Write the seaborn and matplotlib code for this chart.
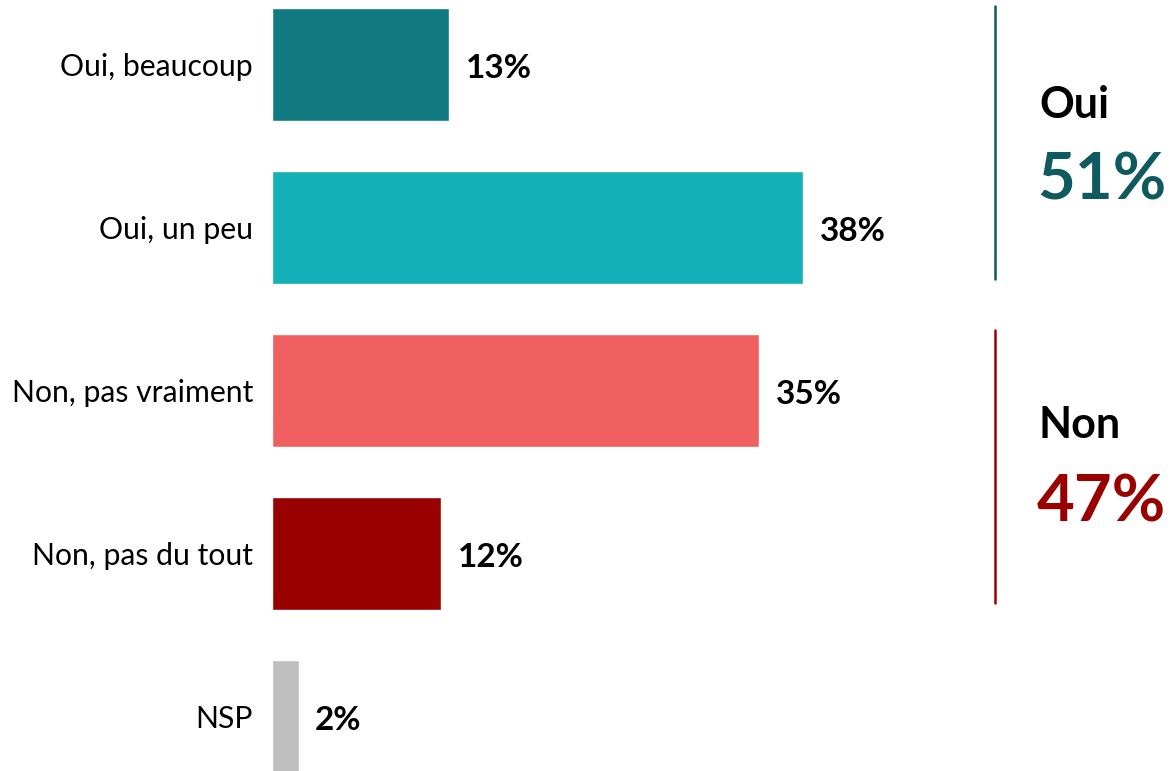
import seaborn as sns
import matplotlib.pyplot as plt
import pandas as pd

categories = ['Oui, beaucoup', 'Oui, un peu', 'Non, pas vraiment', 'Non, pas du tout', 'NSP']
values = [12.7, 38.1, 34.9, 12.1, 1.9]
value_labels = ['13%', '38%', '35%', '12%', '2%']
bar_colors = ['#117A81', '#14B0B8', '#F06060', '#990000', '#BFBFBF']

groups = ['Oui', 'Non']
group_totals = ['51%', '47%']
group_colors = ['#0E5A5E', '#990000']

sns.set_style('white')
plt.rcParams['font.family'] = ['Lato', 'DejaVu Sans']

df = pd.DataFrame({'categorie': categories, 'valeur': values})

W, H = 1172, 771
fig = plt.figure(figsize=(W / 100, H / 100), dpi=100)
# axis starts at x=272 px, 13.95 px per percent point
ax = fig.add_axes([272 / W, 0, 50 * 13.95 / W, 1])

sns.barplot(data=df, x='valeur', y='categorie', hue='categorie',
            palette=bar_colors, width=0.693, legend=False, ax=ax,
            saturation=1)

ax.set_xlim(0, 50)
ax.set_ylim(4 + (771 - 716.5) / 163, -64.5 / 163)
ax.set_xlabel('')
ax.set_ylabel('')
ax.set_xticks([])
ax.tick_params(axis='y', length=0, pad=13.7, labelsize=21.7, labelcolor='black')
for s in ax.spines.values():
    s.set_visible(False)

for i, (v, lab) in enumerate(zip(values, value_labels)):
    ax.text(v + 1.2, i + 0.025, lab, ha='left', va='center',
            fontsize=24, fontweight='bold', color='black')

# group brackets on the right
line_spans = [(6, 279), (330, 603)]
for (y0, y1), c in zip(line_spans, group_colors):
    fig.add_artist(plt.Line2D([995 / W, 995 / W], [1 - y0 / H, 1 - y1 / H],
                              color=c, linewidth=1.8))

title_base = [118, 438]
total_base = [200, 522]
for g, t, c, yb, yt in zip(groups, group_totals, group_colors, title_base, total_base):
    fig.text(1039 / W, 1 - yb / H, g, ha='left', va='baseline',
             fontsize=31, fontweight='bold', color='black')
    fig.text(1037 / W, 1 - yt / H, t, ha='left', va='baseline',
             fontsize=47, fontweight='bold', color=c)

fig.savefig('out.png', dpi=100)
